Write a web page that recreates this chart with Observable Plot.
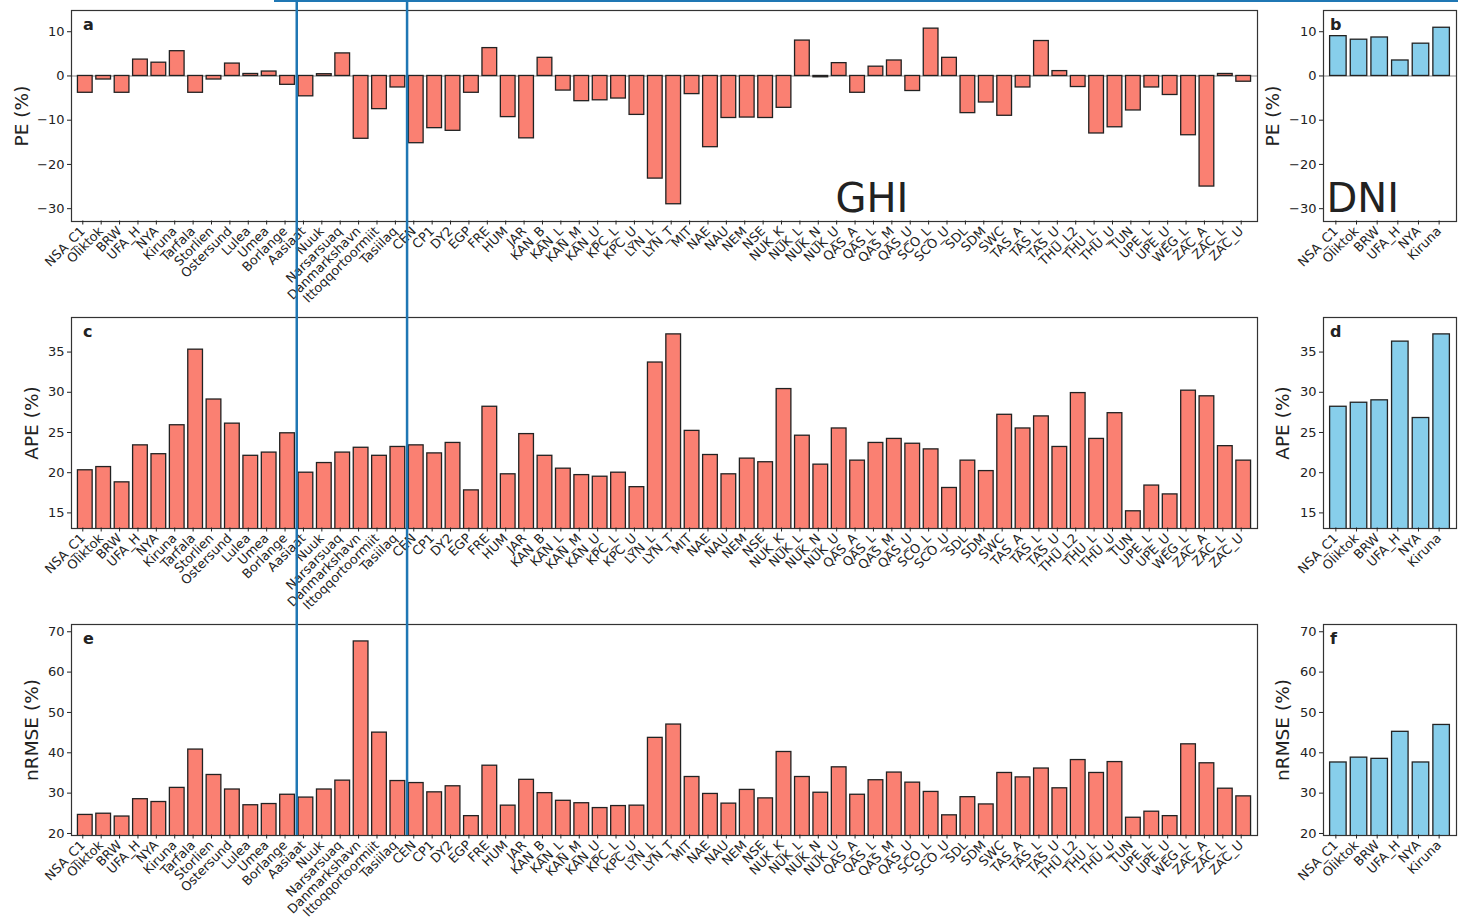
<!DOCTYPE html>
<html><head><meta charset="utf-8">
<script src="https://cdn.jsdelivr.net/npm/d3@7"></script>
<script src="https://cdn.jsdelivr.net/npm/@observablehq/plot@0.6"></script>
<style>
body{margin:0;background:#fff;}
#fig{position:relative;width:1458px;height:921px;overflow:hidden;font-family:"DejaVu Sans";background:#fff;}
#fig svg{position:absolute;}
#topline{position:absolute;left:274px;right:0;top:0;height:2px;background:#1f77b4;}
</style></head><body><div id="fig"><div id="topline"></div></div>
<script>
const ghiSites = ["NSA_C1","Oliktok","BRW","UFA_H","NYA","Kiruna","Tarfala","Storlien","Ostersund","Lulea","Umea","Borlange",
  "Aasiaat","Nuuk","Narsarsuaq","Danmarkshavn","Ittoqqortoormiit","Tasiilaq",
  "CEN","CP1","DY2","EGP","FRE","HUM","JAR","KAN_B","KAN_L","KAN_M","KAN_U","KPC_L","KPC_U","LYN_L","LYN_T","MIT","NAE","NAU","NEM","NSE",
  "NUK_K","NUK_L","NUK_N","NUK_U","QAS_A","QAS_L","QAS_M","QAS_U","SCO_L","SCO_U","SDL","SDM","SWC","TAS_A","TAS_L","TAS_U",
  "THU_L2","THU_L","THU_U","TUN","UPE_L","UPE_U","WEG_L","ZAC_A","ZAC_L","ZAC_U"];
const dniSites = ["NSA_C1","Oliktok","BRW","UFA_H","NYA","Kiruna"];
const groupStarts = ["Aasiaat","CEN"];

const peGHI = [-3.8,-0.8,-3.8,3.7,3.0,5.6,-3.8,-0.8,2.8,0.45,1.0,-2.0,
  -4.6,0.4,5.1,-14.2,-7.5,-2.6,
  -15.2,-11.8,-12.4,-3.8,6.3,-9.3,-14.1,4.1,-3.3,-5.7,-5.5,-5.1,-8.8,-23.2,-29.0,-4.1,-16.1,-9.5,-9.4,-9.5,
  -7.2,8.0,-0.3,2.9,-3.8,2.1,3.5,-3.4,10.7,4.1,-8.4,-6.0,-9.0,-2.6,7.9,1.1,
  -2.5,-13.0,-11.6,-7.8,-2.6,-4.3,-13.4,-25.0,0.45,-1.3];
const apeGHI = [20.3,20.7,18.8,23.4,22.3,25.9,35.3,29.1,26.1,22.1,22.5,24.9,
  20.0,21.2,22.5,23.1,22.1,23.2,
  23.4,22.4,23.7,17.8,28.2,19.8,24.8,22.1,20.5,19.7,19.5,20.0,18.2,33.7,37.2,25.2,22.2,19.8,21.75,21.3,
  30.4,24.6,21.0,25.5,21.5,23.7,24.2,23.6,22.9,18.1,21.5,20.2,27.2,25.5,27.0,23.2,
  29.9,24.2,27.4,15.2,18.4,17.3,30.2,29.5,23.3,21.5];
const nrmseGHI = [24.6,24.9,24.2,28.5,27.8,31.3,40.8,34.5,30.9,27.0,27.3,29.6,
  28.9,30.9,33.1,67.6,45.0,33.0,
  32.5,30.2,31.7,24.3,36.8,26.9,33.3,30.0,28.1,27.5,26.3,26.8,26.9,43.7,47.0,34.0,29.8,27.4,30.8,28.7,
  40.2,34.0,30.1,36.4,29.6,33.2,35.1,32.6,30.3,24.5,29.0,27.2,35.0,33.9,36.1,31.2,
  38.2,35.0,37.7,23.9,25.4,24.3,42.1,37.4,31.1,29.2];
const peDNI = [9.0,8.2,8.7,3.5,7.3,10.9];
const apeDNI = [28.2,28.7,29.0,36.3,26.8,37.2];
const nrmseDNI = [37.6,38.8,38.5,45.2,37.6,46.9];

const peTicks = [-30,-20,-10,0,10];
const apeTicks = [15,20,25,30,35];
const nrmseTicks = [20,30,40,50,60,70];

const fig = document.getElementById("fig");

function panel(o) {
  const data = o.names.map((n, i) => ({name: n, value: o.values[i]}));
  const frameW = o.width - o.marginLeft - o.marginRight;
  const step = frameW / (o.names.length - 0.2 + 2 * o.paddingOuter);
  const marks = [];
  if (o.zero) marks.push(Plot.ruleY([0], {stroke: "#b0b0b0", strokeWidth: 1.5}));
  marks.push(Plot.barY(data, {x: "name", y: "value", fill: o.fill, stroke: "#222", strokeWidth: 1.3, clip: true}));
  marks.push(Plot.frame({stroke: "#333", strokeWidth: 1.2}));
  marks.push(Plot.axisY({ticks: o.yTicks, tickSize: 4, tickPadding: 3, fontSize: 13, tickFormat: d3.format("d"), label: null}));
  marks.push(Plot.axisX({tickRotate: -45, tickSize: 4, tickPadding: 4, dy: -0.5, dx: -2.5, fontSize: 12.8, label: null}));
  marks.push(Plot.text([o.ylabel], {frameAnchor: "left", rotate: -90, dx: o.labelDx, fontSize: 18.5, textAnchor: "middle", lineAnchor: "middle"}));
  marks.push(Plot.text([o.letter], {frameAnchor: "top-left", dx: o.letterDx, dy: 8.6, fontSize: 16, fontWeight: "bold"}));
  if (o.big) marks.push(Plot.text([o.big], {frameAnchor: "bottom-left", dx: o.bigDx, dy: -10, fontSize: 40}));
  if (o.groups) marks.push(Plot.ruleX(o.groups, {x: d => d, dx: -step / 2, stroke: "#1f77b4", strokeWidth: 2.5, insetTop: -10, insetBottom: o.ruleBottom}));
  const svg = Plot.plot({
    width: o.width, height: 307, marginTop: 10, marginBottom: 86,
    marginLeft: o.marginLeft, marginRight: o.marginRight,
    x: {type: "band", domain: o.names, paddingInner: 0.2, paddingOuter: o.paddingOuter, round: false},
    y: {domain: o.yDomain},
    style: {fontFamily: "DejaVu Sans", background: "transparent", overflow: "visible", color: "#222"},
    marks
  });
  svg.style.left = o.left + "px";
  svg.style.top = o.top + "px";
  fig.appendChild(svg);
}

const main = {names: ghiSites, fill: "salmon", left: 0, width: 1280, marginLeft: 71, marginRight: 23, paddingOuter: 0.35, letterDx: 11.5, groups: groupStarts};
const side = {names: dniSites, fill: "skyblue", left: 1240, width: 218, marginLeft: 83, marginRight: 2, paddingOuter: 0.32, letterDx: 6.5};

panel({...main, top: 0, values: peGHI, yDomain: [-32.9, 14.8], yTicks: peTicks, ylabel: "PE (%)", letter: "a", labelDx: -49, zero: true, big: "GHI", bigDx: 764, ruleBottom: -86});
panel({...side, top: 0, values: peDNI, yDomain: [-32.9, 14.8], yTicks: peTicks, ylabel: "PE (%)", letter: "b", labelDx: -50, zero: true, big: "DNI", bigDx: 3});
panel({...main, top: 307, values: apeGHI, yDomain: [13.06, 39.3], yTicks: apeTicks, ylabel: "APE (%)", letter: "c", labelDx: -39, ruleBottom: -86});
panel({...side, top: 307, values: apeDNI, yDomain: [13.06, 39.3], yTicks: apeTicks, ylabel: "APE (%)", letter: "d", labelDx: -40});
panel({...main, top: 614, values: nrmseGHI, yDomain: [19.5, 71.8], yTicks: nrmseTicks, ylabel: "nRMSE (%)", letter: "e", labelDx: -39, ruleBottom: 0});
panel({...side, top: 614, values: nrmseDNI, yDomain: [19.5, 71.8], yTicks: nrmseTicks, ylabel: "nRMSE (%)", letter: "f", labelDx: -40});
</script></body></html>
